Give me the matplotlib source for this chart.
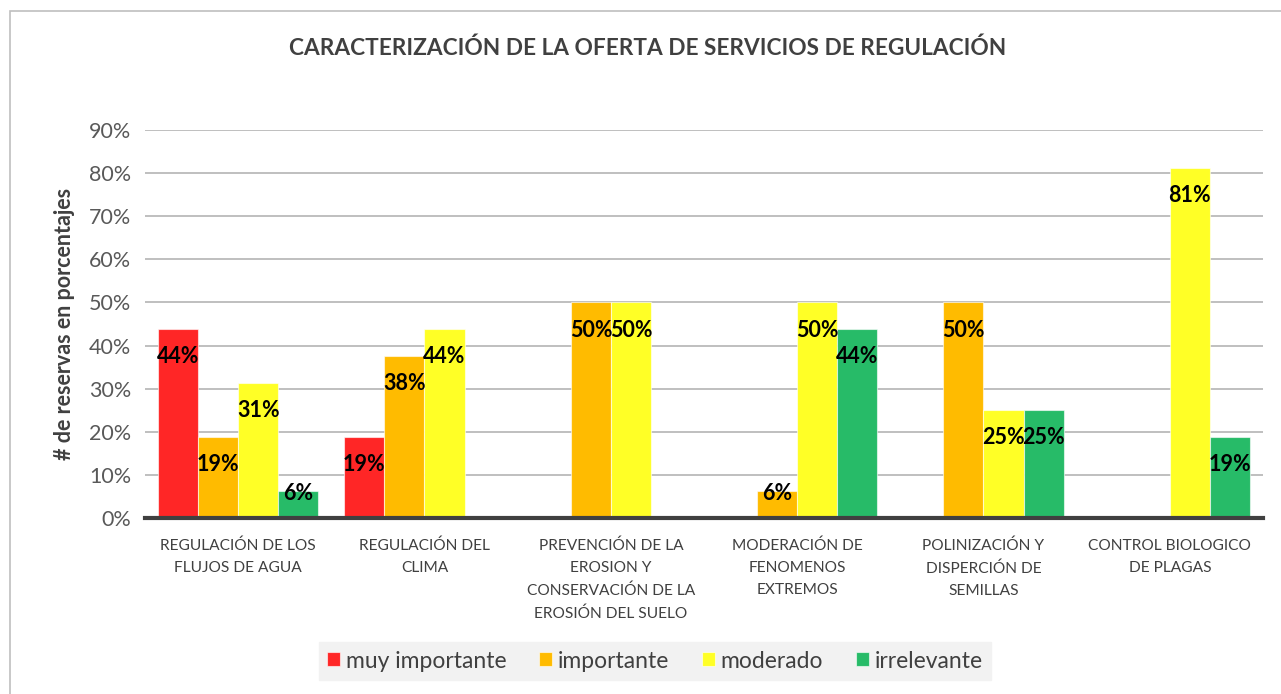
import matplotlib
matplotlib.use("Agg")
import matplotlib.pyplot as plt
import numpy as np
from matplotlib.patches import Rectangle

plt.rcParams['font.family'] = ['Lato', 'DejaVu Sans']

categories = ["REGULACIÓN DE LOS\nFLUJOS DE AGUA", "REGULACIÓN DEL\nCLIMA",
              "PREVENCIÓN DE LA\nEROSION Y\nCONSERVACIÓN DE LA\nEROSIÓN DEL SUELO",
              "MODERACIÓN DE\nFENOMENOS\nEXTREMOS", "POLINIZACIÓN Y\nDISPERCIÓN DE\nSEMILLAS",
              "CONTROL BIOLOGICO\nDE PLAGAS"]
series_names = ["muy importante", "importante", "moderado", "irrelevante"]
muy_importante = [43.75, 18.75, 0, 0, 0, 0]
importante = [18.75, 37.5, 50, 6.25, 50, 0]
moderado = [31.25, 43.75, 50, 50, 25, 81.25]
irrelevante = [6.25, 0, 0, 43.75, 25, 18.75]
yticks = [0, 10, 20, 30, 40, 50, 60, 70, 80, 90]
colors = ["#FF2626", "#FFBB00", "#FFFF26", "#27BB68"]

fig = plt.figure(figsize=(12.81, 6.94), dpi=100)
fig.patch.set_facecolor("white")
ax = fig.add_axes([145/1281, 1-518/694, (1263-145)/1281, (518-130)/694])

# outer chart border
fig.add_artist(Rectangle((10/1281, -0.01), 1.02, 1-11/694+0.01, transform=fig.transFigure,
                         fill=False, edgecolor="#BFBFBF", linewidth=1.2))

data = [muy_importante, importante, moderado, irrelevante]
x = np.arange(len(categories))
w = 0.215
for i, (vals, c, name) in enumerate(zip(data, colors, series_names)):
    pos = x + (i - 1.5) * w
    ax.bar(pos, vals, width=w, color=c, edgecolor=(1, 1, 1, 0.6), linewidth=0.8,
           label=name, zorder=3)
    for px, v in zip(pos, vals):
        if v > 0:
            ly = v - 6.4 if v > 10 else v - 0.5
            ax.text(px, ly, f"{round(v):.0f}%", ha="center", va="center",
                    fontsize=15.5, fontweight="bold", color="black", zorder=4)

ax.set_xlim(-0.5, len(categories) - 0.5)
ax.set_ylim(0, 90)
ax.set_yticks(yticks)
ax.set_yticklabels([f"{t}%" for t in yticks], fontsize=15.5, color="#595959")
ax.set_xticks(x)
ax.set_xticklabels(categories, fontsize=11.2, color="#404040", linespacing=1.72)
ax.tick_params(axis="x", length=0, pad=15)
ax.tick_params(axis="y", length=0, pad=10)
ax.grid(axis="y", color="#BFBFBF", linewidth=1.4, zorder=0)
ax.set_axisbelow(True)
for s in ["top", "right", "left"]:
    ax.spines[s].set_visible(False)
ax.spines["bottom"].set_color("#404040")
ax.spines["bottom"].set_linewidth(3)
ax.spines["bottom"].set_zorder(5)

ax.set_ylabel("# de reservas en porcentajes", fontsize=15.5, fontweight="bold",
              color="#404040", labelpad=10)

fig.text(648/1281, 1-48/694, "CARACTERIZACIÓN DE LA OFERTA DE SERVICIOS DE REGULACIÓN",
         ha="center", va="center", fontsize=16.3, fontweight="bold", color="#404040")

leg = fig.legend(loc="center", bbox_to_anchor=(655/1281, 1-661/694), ncol=4,
                 fontsize=16.5, frameon=True, facecolor="#F2F2F2", edgecolor="#F2F2F2",
                 handlelength=0.55, handleheight=0.55, handletextpad=0.25, columnspacing=1.45,
                 borderpad=0.35, fancybox=False)
for t in leg.get_texts():
    t.set_color("#404040")
leg.get_frame().set_alpha(1)

fig.savefig("out.png", dpi=100)
